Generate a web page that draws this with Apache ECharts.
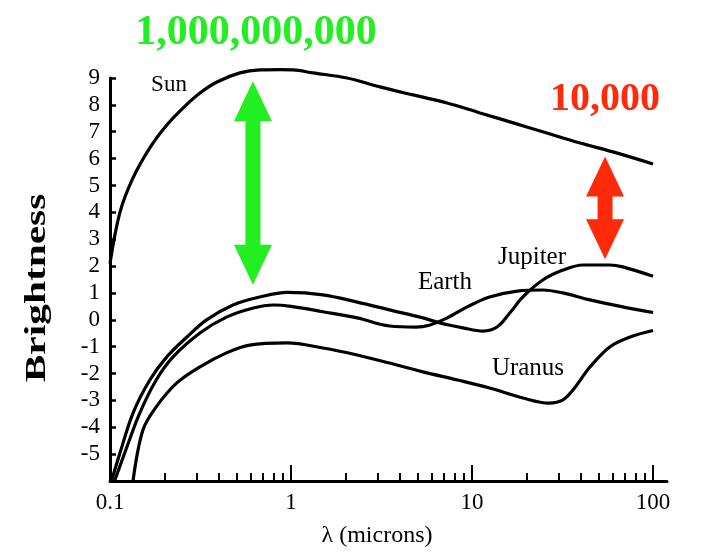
<!DOCTYPE html>
<html>
<head>
<meta charset="utf-8">
<script src="https://cdn.jsdelivr.net/npm/echarts@6/dist/echarts.min.js"></script>
<style>
  html, body { margin: 0; padding: 0; background: #ffffff; }
  #chart { width: 709px; height: 557px; }
</style>
</head>
<body>
<div id="chart"></div>
<script>
// Wavelength (microns) and log brightness for each body
const sunLambda = [0.1, 0.1135, 0.134, 0.166, 0.206, 0.253, 0.314, 0.39, 0.522, 0.674, 0.87, 1.03, 1.32, 2.04, 3.1, 4.72, 7.28, 11.07, 16.9, 25.9, 39.5, 60.1, 100];
const sunBright = [2.1, 4.0, 5.28, 6.4, 7.25, 7.88, 8.44, 8.85, 9.19, 9.3, 9.31, 9.3, 9.19, 9.0, 8.67, 8.37, 8.07, 7.7, 7.33, 6.95, 6.58, 6.25, 5.8];

const jupiterLambda = [0.102, 0.1135, 0.134, 0.166, 0.206, 0.266, 0.34, 0.478, 0.674, 0.95, 1.5, 2.32, 3.5, 5.36, 6.65, 8.9, 11.5, 13.8, 16.2, 19.1, 24.6, 31.8, 41, 57.6, 68, 100];
const jupiterBright = [-6, -4.96, -3.47, -2.24, -1.38, -0.64, -0.01, 0.55, 0.85, 1.02, 0.93, 0.66, 0.37, 0.07, -0.12, -0.3, -0.42, -0.26, 0.26, 0.85, 1.48, 1.85, 2.04, 2.04, 1.97, 1.62];

const earthLambda = [0.106, 0.124, 0.146, 0.18, 0.223, 0.314, 0.44, 0.62, 0.8, 1.0, 1.5, 2.32, 3.5, 4.9, 5.8, 7.3, 9.4, 12.5, 17.8, 24.6, 31.8, 44.8, 68, 100];
const earthBright = [-6, -4.73, -3.47, -2.24, -1.38, -0.49, 0.1, 0.44, 0.55, 0.5, 0.3, 0.07, -0.23, -0.27, -0.2, 0.07, 0.48, 0.85, 1.07, 1.11, 1.0, 0.74, 0.48, 0.27];

const uranusLambda = [0.134, 0.152, 0.18, 0.234, 0.314, 0.44, 0.59, 0.95, 1.5, 2.32, 3.5, 5.36, 8.3, 12.5, 19.1, 26.7, 31.8, 36.1, 44.8, 57.6, 74.6, 100];
const uranusBright = [-6, -4.1, -3.24, -2.35, -1.75, -1.23, -0.94, -0.86, -1.05, -1.31, -1.61, -1.94, -2.24, -2.54, -2.91, -3.1, -2.98, -2.61, -1.76, -1.01, -0.64, -0.4];

// Brightness-gap arrows: wavelength, upper end, lower end
const arrowLambda = [0.616, 54.3];
const arrowTop = [8.88, 6.08];
const arrowBottom = [1.3, 2.25];
const arrowText = ['1,000,000,000', '10,000'];

// Axis ticks
const xMajorValues = [0.1, 1, 10, 100];
const xMajorLabels = ['0.1', '1', '10', '100'];
const xMinorValues = [0.2, 0.3, 0.4, 0.5, 0.6, 0.7, 0.8, 0.9, 2, 3, 4, 5, 6, 7, 8, 9, 20, 30, 40, 50, 60, 70, 80, 90];

const SERIF = "'Liberation Serif', 'Times New Roman', serif";
const GREEN = '#22ee22';
const RED = '#ff2a0a';

const toPoints = (lam, val) => lam.map((l, i) => [Math.log10(l), val[i]]);
const xMax = 2.077;

const lineSeries = (name, lam, val, clip) => ({
  name: name,
  type: 'line',
  data: toPoints(lam, val),
  showSymbol: false,
  smooth: 0.35,
  clip: clip,
  lineStyle: { color: '#000', width: 3.2 },
  z: 3
});

const chart = echarts.init(document.getElementById('chart'), null, { renderer: 'canvas' });

chart.setOption({
  animation: false,
  backgroundColor: '#ffffff',
  grid: { left: 110, right: 42, top: 78, bottom: 76 },
  xAxis: [
    {
      type: 'value', min: -1, max: xMax, position: 'bottom',
      axisLine: { onZero: false, lineStyle: { color: '#000', width: 3 } },
      splitLine: { show: false },
      axisTick: {
        inside: true, length: 16,
        lineStyle: { color: '#000', width: 2 },
        customValues: xMajorValues.slice(1).map(Math.log10)
      },
      axisLabel: {
        customValues: xMajorValues.map(Math.log10),
        formatter: v => xMajorLabels[Math.round(v) + 1],
        color: '#000', fontFamily: SERIF, fontSize: 23, margin: 10
      }
    },
    {
      type: 'value', min: -1, max: xMax, position: 'bottom',
      axisLine: { show: false, onZero: false },
      splitLine: { show: false },
      axisLabel: { show: false },
      axisTick: {
        inside: true, length: 8,
        lineStyle: { color: '#000', width: 2 },
        customValues: xMinorValues.map(Math.log10)
      }
    }
  ],
  yAxis: {
    type: 'value', min: -6, max: 9, interval: 1,
    axisLine: { show: true, onZero: false, lineStyle: { color: '#000', width: 3 } },
    splitLine: { show: false },
    axisTick: { show: true, inside: true, length: 6, lineStyle: { color: '#000', width: 2.5 } },
    axisLabel: {
      formatter: v => (v === -6 ? '' : String(v)),
      color: '#000', fontFamily: SERIF, fontSize: 23, margin: 10
    }
  },
  series: [
    lineSeries('Sun', sunLambda, sunBright, false),
    lineSeries('Jupiter', jupiterLambda, jupiterBright, true),
    lineSeries('Earth', earthLambda, earthBright, true),
    lineSeries('Uranus', uranusLambda, uranusBright, true),
    {
      type: 'custom',
      name: 'gap',
      clip: false,
      z: 5,
      data: arrowLambda.map((l, i) => ({
        value: [Math.log10(l), arrowTop[i], arrowBottom[i]],
        itemStyle: { color: i === 0 ? GREEN : RED }
      })),
      renderItem: (params, api) => {
        const top = api.coord([api.value(0), api.value(1)]);
        const bot = api.coord([api.value(0), api.value(2)]);
        const cx = top[0], yt = top[1], yb = bot[1];
        const head = 40, hw = 19, sw = 7.5;
        return {
          type: 'polygon',
          shape: {
            points: [
              [cx, yt], [cx + hw, yt + head], [cx + sw, yt + head],
              [cx + sw, yb - head], [cx + hw, yb - head], [cx, yb],
              [cx - hw, yb - head], [cx - sw, yb - head],
              [cx - sw, yt + head], [cx - hw, yt + head]
            ]
          },
          style: { fill: api.visual('color') }
        };
      }
    }
  ],
  graphic: [
    { type: 'text', x: 256, y: 33,
      style: { text: arrowText[0], fill: GREEN, font: "bold 42px " + SERIF, align: 'center', verticalAlign: 'middle' } },
    { type: 'text', x: 605, y: 100,
      style: { text: arrowText[1], fill: RED, font: "bold 40px " + SERIF, align: 'center', verticalAlign: 'middle' } },
    { type: 'text', x: 169, y: 85,
      style: { text: 'Sun', fill: '#000', font: "23px " + SERIF, align: 'center', verticalAlign: 'middle' } },
    { type: 'text', x: 445, y: 282,
      style: { text: 'Earth', fill: '#000', font: "25px " + SERIF, align: 'center', verticalAlign: 'middle' } },
    { type: 'text', x: 532, y: 257,
      style: { text: 'Jupiter', fill: '#000', font: "25px " + SERIF, align: 'center', verticalAlign: 'middle' } },
    { type: 'text', x: 528, y: 368,
      style: { text: 'Uranus', fill: '#000', font: "25px " + SERIF, align: 'center', verticalAlign: 'middle' } },
    { type: 'text', x: 377, y: 536,
      style: { text: 'λ (microns)', fill: '#000', font: "24px " + SERIF, align: 'center', verticalAlign: 'middle' } },
    { type: 'text', x: 37, y: 288, rotation: Math.PI / 2, scaleX: 1.38,
      style: { text: 'Brightness', fill: '#000', font: "bold 30px " + SERIF, align: 'center', verticalAlign: 'middle' } }
  ]
});
</script>
</body>
</html>
